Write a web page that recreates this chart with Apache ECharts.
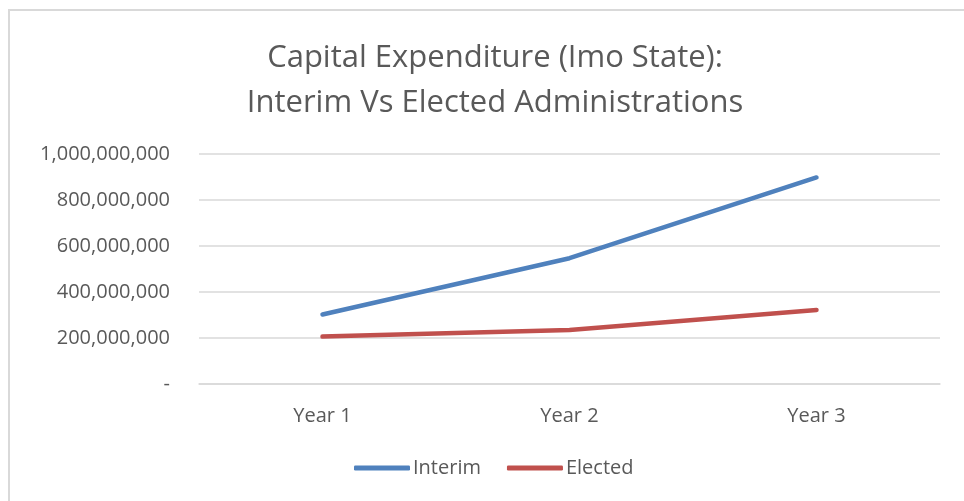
<!DOCTYPE html>
<html>
<head>
<meta charset="utf-8">
<script src="https://cdn.jsdelivr.net/npm/echarts@6/dist/echarts.min.js"></script>
<style>
  html, body { margin: 0; padding: 0; background: #fff; }
  #chart { width: 964px; height: 501px; }
</style>
</head>
<body>
<div id="chart"></div>
<script>
// Capital expenditure by year for the two administrations
const years = ['Year 1', 'Year 2', 'Year 3'];
const interim = [302000000, 547000000, 898000000];
const elected = [206000000, 235000000, 322000000];
const yTicks = { min: 0, max: 1000000000, step: 200000000 };

const textColor = '#595959';
const fontFamily = '"Open Sans", "Liberation Sans", sans-serif';

const chart = echarts.init(document.getElementById('chart'), null, { renderer: 'canvas' });

chart.setOption({
  animation: false,
  backgroundColor: '#ffffff',
  textStyle: { fontFamily: fontFamily, color: textColor },
  graphic: [{
    type: 'rect',
    shape: { x: 9, y: 10, width: 1000, height: 600 },
    style: { fill: 'none', stroke: '#d9d9d9', lineWidth: 2 },
    silent: true
  }],
  title: {
    text: 'Capital Expenditure (Imo State):\nInterim Vs Elected Administrations',
    left: 490,
    top: 31,
    textAlign: 'center',
    textStyle: {
      fontFamily: fontFamily,
      fontSize: 31,
      fontWeight: 'normal',
      color: textColor,
      lineHeight: 45
    }
  },
  legend: {
    data: ['Interim', 'Elected'],
    bottom: 18,
    left: 349,
    itemWidth: 56,
    itemHeight: 5,
    itemGap: 26,
    icon: 'roundRect',
    textStyle: { fontFamily: fontFamily, fontSize: 20, color: textColor, padding: [0, 0, 0, -2] }
  },
  grid: { left: 199, right: 24, top: 154, bottom: 117, containLabel: false },
  xAxis: {
    type: 'category',
    data: years,
    boundaryGap: true,
    axisLine: { show: true, lineStyle: { color: '#d9d9d9', width: 1.5 } },
    axisTick: { show: false },
    axisLabel: { fontFamily: fontFamily, fontSize: 20, color: textColor, margin: 22 }
  },
  yAxis: {
    type: 'value',
    min: yTicks.min,
    max: yTicks.max,
    interval: yTicks.step,
    axisLine: { show: false },
    axisTick: { show: false },
    splitLine: { lineStyle: { color: '#d9d9d9', width: 1.5 } },
    axisLabel: {
      fontFamily: fontFamily,
      fontSize: 20,
      color: textColor,
      margin: 29,
      formatter: function (v) { return v === 0 ? '-' : v.toLocaleString('en-US'); }
    }
  },
  series: [
    {
      name: 'Interim',
      type: 'line',
      data: interim,
      symbol: 'none',
      itemStyle: { color: '#4f81bd' },
      lineStyle: { color: '#4f81bd', width: 4.5, cap: 'round', join: 'round' }
    },
    {
      name: 'Elected',
      type: 'line',
      data: elected,
      symbol: 'none',
      itemStyle: { color: '#c0504d' },
      lineStyle: { color: '#c0504d', width: 4.5, cap: 'round', join: 'round' }
    }
  ]
});
</script>
</body>
</html>
